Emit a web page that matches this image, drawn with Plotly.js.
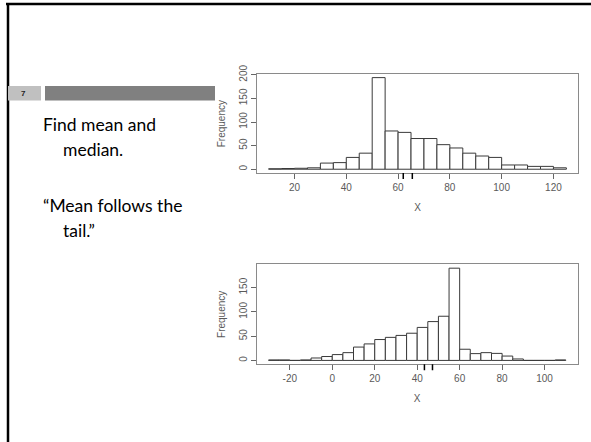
<!DOCTYPE html>
<html>
<head>
<meta charset="utf-8">
<script src="https://cdn.plot.ly/plotly-3.0.1.min.js"></script>
<style>html,body{margin:0;padding:0;background:#fff;}#chart{width:591px;height:442px;}</style>
</head>
<body>
<div id="chart"></div>
<script>
// ---- data ----
var binWidth = 5;
var topBinStart = 10;
var topCounts = [1, 1.5, 2, 3, 13, 14, 25, 34, 194, 81, 78, 65, 65, 52, 45, 34, 28, 25, 9, 9, 6, 6, 3];
var topRug = [62, 65.5];
var botBinStart = -30;
var botCounts = [1, 1, 0, 1, 5, 8, 12, 16, 27.5, 34, 43, 47.5, 51.5, 56, 68, 80, 91, 190, 23, 14, 16, 14.5, 9, 3, 0, 0, 0, 1];
var botRug = [43.4, 47.2];
var topXTicks = [20, 40, 60, 80, 100, 120];
var topYTicks = [0, 50, 100, 150, 200];
var botXTicks = [-20, 0, 20, 40, 60, 80, 100];
var botYTicks = [0, 50, 100, 150];
var slideNumber = "7";
var bodyLines = ["Find mean and", "median.", "\u201CMean follows the", "tail.\u201D"];

function centers(start, counts) {
  return counts.map(function (c, i) { return start + binWidth * i + binWidth / 2; });
}

var W = 591, H = 442;
function px(x) { return x / W; }
function py(y) { return 1 - y / H; }

var barStyle = {color: '#ffffff', line: {color: '#3a3a3a', width: 1}};
var traces = [
  {type: 'bar', x: centers(topBinStart, topCounts), y: topCounts, width: binWidth,
   marker: barStyle, xaxis: 'x', yaxis: 'y', hoverinfo: 'x+y', showlegend: false},
  {type: 'bar', x: centers(botBinStart, botCounts), y: botCounts, width: binWidth,
   marker: barStyle, xaxis: 'x2', yaxis: 'y2', hoverinfo: 'x+y', showlegend: false}
];

var tickFont = {family: 'Liberation Sans, Arial, sans-serif', size: 10, color: '#5a5a5a'};
function xax(range, ticks, dom, anchor) {
  return {domain: dom, range: range, tickvals: ticks, ticktext: ticks.map(String),
    showgrid: false, zeroline: false, showline: true, mirror: true, linecolor: '#8a8a8a', linewidth: 1,
    ticks: 'outside', ticklen: 5, tickcolor: '#666', tickfont: tickFont, anchor: anchor,
    title: {text: 'X', font: tickFont, standoff: 11}, automargin: false};
}
function yax(range, ticks, dom, anchor) {
  return {domain: dom, range: range, tickvals: ticks, ticktext: ticks.map(String),
    showgrid: false, zeroline: false, showline: true, mirror: true, linecolor: '#8a8a8a', linewidth: 1,
    ticks: 'outside', ticklen: 5, tickcolor: '#666', tickfont: tickFont, tickangle: -90, anchor: anchor,
    title: {text: 'Frequency', font: tickFont, standoff: 10}, automargin: false};
}

var shapes = [];
// slide border
shapes.push({type: 'line', xref: 'paper', yref: 'paper', x0: px(6), x1: px(591), y0: py(4), y1: py(4), line: {color: '#000', width: 2.5}});
shapes.push({type: 'line', xref: 'paper', yref: 'paper', x0: px(8), x1: px(8), y0: py(3), y1: py(442), line: {color: '#000', width: 2.5}});
// header bars
shapes.push({type: 'rect', xref: 'paper', yref: 'paper', x0: px(8), x1: px(41), y0: py(86), y1: py(100.5), fillcolor: '#c0c0c0', line: {width: 0}});
shapes.push({type: 'rect', xref: 'paper', yref: 'paper', x0: px(45), x1: px(215), y0: py(86), y1: py(100.5), fillcolor: '#808080', line: {width: 0}});
// rugs
topRug.forEach(function (v) {
  shapes.push({type: 'line', xref: 'x', yref: 'paper', x0: v, x1: v, y0: py(173), y1: py(179), line: {color: '#000', width: 1.5}});
});
botRug.forEach(function (v) {
  shapes.push({type: 'line', xref: 'x2', yref: 'paper', x0: v, x1: v, y0: py(364.3), y1: py(370.3), line: {color: '#000', width: 1.5}});
});

var bodyFont = {family: 'Lato, "Open Sans", sans-serif', size: 17.5, color: '#000'};
var annotations = [
  {xref: 'paper', yref: 'paper', x: px(24), y: py(93.5), text: '<b>' + slideNumber + '</b>', showarrow: false, xanchor: 'center', yanchor: 'middle', font: {family: 'Liberation Sans, Arial', size: 8, color: '#222'}},
  {xref: 'paper', yref: 'paper', x: px(41), y: py(124), text: bodyLines[0], showarrow: false, xanchor: 'left', yanchor: 'middle', font: bodyFont},
  {xref: 'paper', yref: 'paper', x: px(61), y: py(149), text: bodyLines[1], showarrow: false, xanchor: 'left', yanchor: 'middle', font: bodyFont},
  {xref: 'paper', yref: 'paper', x: px(41), y: py(205), text: bodyLines[2], showarrow: false, xanchor: 'left', yanchor: 'middle', font: bodyFont},
  {xref: 'paper', yref: 'paper', x: px(61), y: py(230), text: bodyLines[3], showarrow: false, xanchor: 'left', yanchor: 'middle', font: bodyFont}
];

var layout = {
  width: W, height: H, margin: {l: 0, r: 0, t: 0, b: 0},
  paper_bgcolor: '#fff', plot_bgcolor: '#fff', bargap: 0, showlegend: false,
  xaxis: xax([5.4, 129.6], topXTicks, [px(256.7), px(578.3)], 'y'),
  yaxis: yax([-8, 201], topYTicks, [py(173), py(74.3)], 'x'),
  xaxis2: xax([-35.6, 115.6], botXTicks, [px(256.7), px(577.7)], 'y2'),
  yaxis2: yax([-8, 198], botYTicks, [py(364.3), py(264.3)], 'x2'),
  shapes: shapes, annotations: annotations
};

Plotly.newPlot('chart', traces, layout, {staticPlot: true, displayModeBar: false});
</script>
</body>
</html>
